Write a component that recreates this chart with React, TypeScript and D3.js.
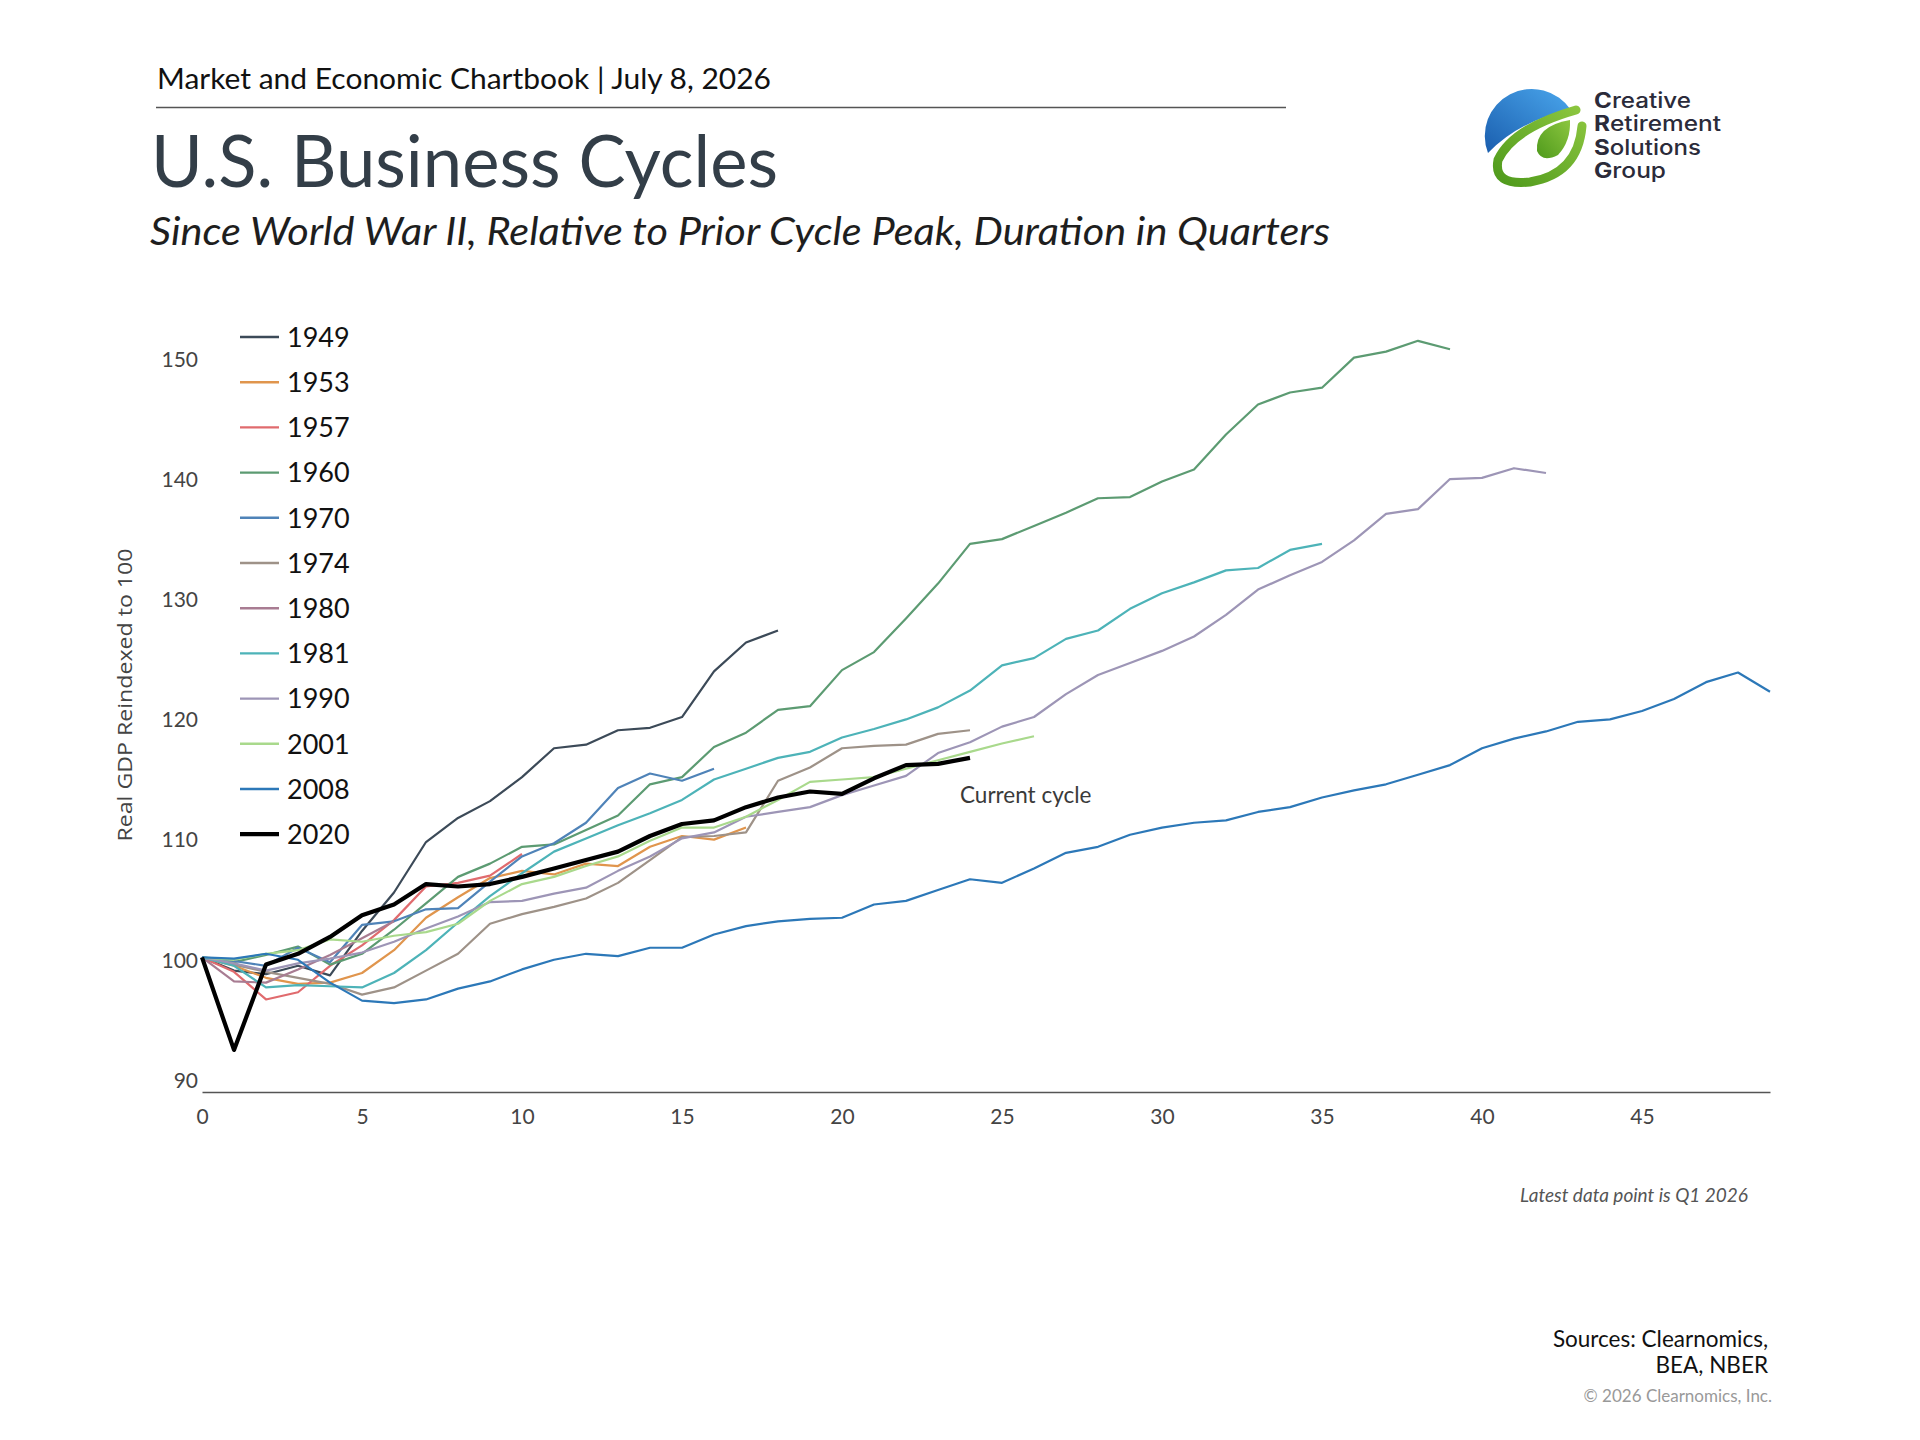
import * as d3 from "d3";
import { useEffect, useRef } from "react";

// quarters since prior cycle peak, real GDP reindexed to 100
const quarterTicks = [0, 5, 10, 15, 20, 25, 30, 35, 40, 45];
const valueTicks = [90, 100, 110, 120, 130, 140, 150];

const cycleLabels = ["1949", "1953", "1957", "1960", "1970", "1974", "1980", "1981", "1990", "2001", "2008", "2020"];
const cycleColors = ["#3c4a58", "#e0954d", "#e06b6e", "#5c9b72", "#4f83b8", "#9e9288", "#a87c92", "#4db3b8", "#9d95b6", "#a9d98c", "#2c78b8", "#000000"];

const cycle1949 = [100, 98.9, 98.6, 99.3, 98.5, 102.2, 105.4, 109.6, 111.6, 113.0, 115.0, 117.4, 117.7, 118.9, 119.1, 120.0, 123.8, 126.2, 127.2];
const cycle1953 = [100, 99.3, 98.3, 97.8, 97.9, 98.7, 100.6, 103.3, 105.0, 106.6, 107.2, 106.9, 107.8, 107.6, 109.2, 110.1, 109.8, 110.8];
const cycle1957 = [100, 98.8, 96.5, 97.1, 99.3, 101.0, 103.1, 105.9, 106.2, 106.8, 108.6];
const cycle1960 = [100, 99.6, 100.2, 100.9, 99.4, 100.3, 102.3, 104.5, 106.7, 107.8, 109.2, 109.4, 110.6, 111.8, 114.4, 115.0, 117.5, 118.7, 120.6, 120.9, 123.9, 125.4, 128.2, 131.1, 134.4, 134.8, 135.9, 137.0, 138.2, 138.3, 139.6, 140.6, 143.5, 146.0, 147.0, 147.4, 149.9, 150.4, 151.3, 150.6];
const cycle1970 = [100, 99.7, 99.3, 100.8, 99.6, 102.7, 103.0, 104.0, 104.1, 106.3, 108.4, 109.5, 111.2, 114.1, 115.3, 114.7, 115.7];
const cycle1974 = [100, 99.4, 98.8, 98.3, 97.8, 96.9, 97.5, 98.9, 100.3, 102.8, 103.6, 104.2, 104.9, 106.2, 108.1, 110.0, 110.1, 110.4, 114.7, 115.8, 117.4, 117.6, 117.7, 118.6, 118.9];
const cycle1980 = [100, 98.0, 97.9, 99.0, 100.2, 101.6, 103.0];
const cycle1981 = [100, 99.3, 97.5, 97.7, 97.6, 97.5, 98.7, 100.6, 102.9, 105.1, 107.0, 108.8, 109.9, 111.0, 112.0, 113.1, 114.8, 115.7, 116.6, 117.1, 118.3, 119.0, 119.8, 120.8, 122.2, 124.3, 124.9, 126.5, 127.2, 129.0, 130.3, 131.2, 132.2, 132.4, 133.9, 134.4];
const cycle1990 = [100, 99.5, 98.9, 99.5, 99.9, 100.4, 101.3, 102.4, 103.4, 104.6, 104.7, 105.3, 105.8, 107.2, 108.4, 109.9, 110.4, 111.7, 112.1, 112.5, 113.5, 114.3, 115.1, 117.0, 117.9, 119.2, 120.0, 121.9, 123.5, 124.5, 125.5, 126.7, 128.5, 130.6, 131.8, 132.9, 134.7, 136.9, 137.3, 139.8, 139.9, 140.7, 140.3];
const cycle2001 = [100, 99.8, 100.3, 100.6, 101.5, 101.3, 101.8, 102.1, 102.8, 104.7, 106.1, 106.7, 107.6, 108.4, 109.7, 110.8, 110.8, 111.7, 113.1, 114.6, 114.8, 115.0, 115.7, 116.4, 117.1, 117.8, 118.4];
const cycle2008 = [100, 99.9, 100.3, 99.8, 97.9, 96.4, 96.2, 96.5, 97.4, 98.0, 99.0, 99.8, 100.3, 100.1, 100.8, 100.8, 101.9, 102.6, 103.0, 103.2, 103.3, 104.4, 104.7, 105.6, 106.5, 106.2, 107.4, 108.7, 109.2, 110.2, 110.8, 111.2, 111.4, 112.1, 112.5, 113.3, 113.9, 114.4, 115.2, 116.0, 117.4, 118.2, 118.8, 119.6, 119.8, 120.5, 121.5, 122.9, 123.7, 122.1];
const cycle2020 = [100, 92.3, 99.4, 100.3, 101.7, 103.5, 104.4, 106.1, 105.9, 106.1, 106.7, 107.4, 108.1, 108.8, 110.1, 111.1, 111.4, 112.5, 113.3, 113.8, 113.6, 114.9, 116.0, 116.1, 116.6];

const cycleValues = [cycle1949, cycle1953, cycle1957, cycle1960, cycle1970, cycle1974, cycle1980, cycle1981, cycle1990, cycle2001, cycle2008, cycle2020];

const logoWords = ["Creative", "Retirement", "Solutions", "Group"];
const logoWordWidths = [97, 127, 107, 72];

const App = () => {
  const ref = useRef<SVGSVGElement | null>(null);

  useEffect(() => {
    const svg = d3.select(ref.current);
    svg.selectAll("*").remove();

    const width = 1920;
    const height = 1440;
    svg.attr("width", width).attr("height", height);

    svg.append("rect").attr("width", width).attr("height", height).attr("fill", "#fff");

    const font = "Lato, 'Noto Sans', sans-serif";

    // Header
    svg
      .append("text")
      .attr("x", 157)
      .attr("y", 89)
      .attr("textLength", 614)
      .attr("lengthAdjust", "spacingAndGlyphs")
      .style("font-family", font)
      .style("font-size", "28px")
      .style("fill", "#111")
      .text("Market and Economic Chartbook | July 8, 2026");

    svg
      .append("line")
      .attr("x1", 156)
      .attr("x2", 1286)
      .attr("y1", 107.5)
      .attr("y2", 107.5)
      .attr("stroke", "#555")
      .attr("stroke-width", 1.5);

    svg
      .append("text")
      .attr("x", 151)
      .attr("y", 187)
      .attr("textLength", 627)
      .attr("lengthAdjust", "spacingAndGlyphs")
      .style("font-family", font)
      .style("font-size", "71px")
      .style("fill", "#333e48")
      .text("U.S. Business Cycles");

    svg
      .append("text")
      .attr("x", 150)
      .attr("y", 245)
      .attr("textLength", 1180)
      .attr("lengthAdjust", "spacingAndGlyphs")
      .style("font-family", font)
      .style("font-style", "italic")
      .style("font-size", "39px")
      .style("fill", "#1e1e1e")
      .text("Since World War II, Relative to Prior Cycle Peak, Duration in Quarters");

    // Logo
    const defs = svg.append("defs");
    const blueGrad = defs
      .append("linearGradient")
      .attr("id", "logoBlue")
      .attr("x1", "0")
      .attr("y1", "1")
      .attr("x2", "1")
      .attr("y2", "0");
    blueGrad.append("stop").attr("offset", "0").attr("stop-color", "#1a5eae");
    blueGrad.append("stop").attr("offset", "1").attr("stop-color", "#4aa6ec");
    const greenGrad = defs
      .append("linearGradient")
      .attr("id", "logoGreen")
      .attr("x1", "0")
      .attr("y1", "1")
      .attr("x2", "1")
      .attr("y2", "0");
    greenGrad.append("stop").attr("offset", "0").attr("stop-color", "#4f9a1c");
    greenGrad.append("stop").attr("offset", "1").attr("stop-color", "#8cc63f");

    const logo = svg.append("g");
    logo
      .append("path")
      .attr("d", "M1488,153 A47,47 0 0 1 1571,110 Q1520,120 1488,153 Z")
      .attr("fill", "url(#logoBlue)");
    logo
      .append("path")
      .attr("d", "M1576,110 Q1513,128 1498,160 Q1493,186 1530,182 Q1578,174 1582,126")
      .attr("fill", "none")
      .attr("stroke", "url(#logoGreen)")
      .attr("stroke-width", 9)
      .attr("stroke-linecap", "round");
    logo
      .append("path")
      .attr("d", "M1570,120 Q1535,126 1537,151 Q1542,163 1558,155 Q1571,141 1570,120 Z")
      .attr("fill", "url(#logoGreen)");

    logoWords.forEach((w, i) => {
      const t = logo
        .append("text")
        .attr("x", 1594)
        .attr("y", 108 + i * 23.4)
        .attr("textLength", logoWordWidths[i])
        .attr("lengthAdjust", "spacingAndGlyphs")
        .style("font-family", "Inter, Roboto, sans-serif")
        .style("font-size", "21px")
        .style("fill", "#2b2b3a");
      t.append("tspan").style("font-weight", "700").text(w[0]);
      t.append("tspan").style("font-weight", "500").text(w.slice(1));
    });

    // Scales
    const xScale = d3.scaleLinear().domain([0, 49]).range([202, 1770]);
    const yScale = d3.scaleLinear().domain([88.8, 152]).range([1092, 332.4]);

    // X axis
    const xAxis = svg
      .append("g")
      .attr("transform", `translate(0, ${yScale(88.8)})`)
      .call(d3.axisBottom(xScale).tickValues(quarterTicks).tickSize(0).tickPadding(17));
    xAxis.select(".domain").attr("stroke", "#555").attr("stroke-width", 1.5);
    xAxis
      .selectAll("text")
      .style("font-family", font)
      .style("font-size", "21px")
      .style("fill", "#444");

    // Y axis
    const yAxis = svg
      .append("g")
      .attr("transform", `translate(${xScale(0)}, 0)`)
      .call(d3.axisLeft(yScale).tickValues(valueTicks).tickSize(0).tickPadding(4));
    yAxis.select(".domain").remove();
    yAxis
      .selectAll("text")
      .attr("transform", "translate(0, 3)")
      .style("font-family", font)
      .style("font-size", "21px")
      .style("fill", "#444");

    svg
      .append("text")
      .attr("transform", "translate(132, 695) rotate(-90)")
      .attr("textLength", 293)
      .attr("lengthAdjust", "spacingAndGlyphs")
      .style("text-anchor", "middle")
      .style("font-family", "'Open Sans', sans-serif")
      .style("font-size", "20px")
      .style("fill", "#444")
      .text("Real GDP Reindexed to 100");

    // Cycle lines
    const line = d3
      .line<number>()
      .x((_, i) => xScale(i))
      .y((d) => yScale(d));

    cycleValues.forEach((values, i) => {
      const isCurrent = cycleLabels[i] === "2020";
      svg
        .append("path")
        .datum(values)
        .attr("d", line)
        .attr("fill", "none")
        .attr("stroke", cycleColors[i])
        .attr("stroke-width", isCurrent ? 4.2 : 2.2)
        .attr("stroke-linejoin", "round");
    });

    svg
      .append("text")
      .attr("x", 960)
      .attr("y", 803)
      .style("font-family", font)
      .style("font-size", "22.5px")
      .style("fill", "#3a3a3a")
      .text("Current cycle");

    // Legend
    const legend = svg.append("g");
    cycleLabels.forEach((label, i) => {
      const ly = 337 + i * 45.2;
      legend
        .append("line")
        .attr("x1", 240)
        .attr("x2", 279)
        .attr("y1", ly)
        .attr("y2", ly)
        .attr("stroke", cycleColors[i])
        .attr("stroke-width", label === "2020" ? 4.2 : 2.4);
      legend
        .append("text")
        .attr("x", 287)
        .attr("y", ly)
        .attr("dy", "0.36em")
        .style("font-family", font)
        .style("font-size", "27px")
        .style("fill", "#111")
        .text(label);
    });

    // Footer
    svg
      .append("text")
      .attr("x", 1748)
      .attr("y", 1202)
      .style("text-anchor", "end")
      .style("font-family", font)
      .style("font-style", "italic")
      .style("font-size", "19px")
      .style("fill", "#555")
      .text("Latest data point is Q1 2026");

    const sources = svg
      .append("text")
      .style("text-anchor", "end")
      .style("font-family", font)
      .style("font-size", "22.5px")
      .style("fill", "#111");
    sources.append("tspan").attr("x", 1768).attr("y", 1347).text("Sources: Clearnomics,");
    sources.append("tspan").attr("x", 1768).attr("y", 1373).text("BEA, NBER");

    svg
      .append("text")
      .attr("x", 1772)
      .attr("y", 1402)
      .style("text-anchor", "end")
      .style("font-family", font)
      .style("font-size", "17px")
      .style("fill", "#999")
      .text("© 2026 Clearnomics, Inc.");
  }, []);

  return <svg ref={ref} style={{ position: "absolute", left: 0, top: 0, display: "block" }}></svg>;
};

export default App;
